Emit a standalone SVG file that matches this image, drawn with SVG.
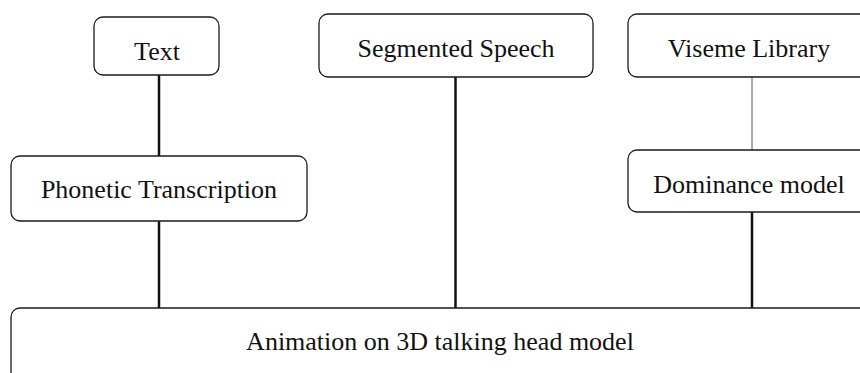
<svg xmlns="http://www.w3.org/2000/svg" width="860" height="373" viewBox="0 0 860 373">
<style>
.box{fill:#fff;stroke:#1a1a1a;stroke-width:1.3}
.lbl{font-family:"Liberation Serif","Times New Roman",serif;font-size:26px;fill:#111;text-anchor:middle}
.thick{stroke:#111;stroke-width:2.5;fill:none}
.thin{stroke:#555;stroke-width:1;fill:none}
</style>
<rect width="860" height="373" fill="#fff"/>
<g id="connectors">
<line class="thick" x1="159" y1="75" x2="159" y2="156"/>
<line class="thick" x1="159" y1="221" x2="159" y2="308"/>
<line class="thick" x1="455.5" y1="77" x2="455.5" y2="308"/>
<line class="thin" x1="752" y1="77" x2="752" y2="150"/>
<line class="thick" x1="752" y1="212" x2="752" y2="308"/>
</g>
<g id="text">
<rect class="box" x="94" y="17" width="125" height="58" rx="9"/>
<text class="lbl" x="157" y="60">Text</text>
</g>
<g id="segmented-speech">
<rect class="box" x="319" y="14" width="274" height="63" rx="9"/>
<text class="lbl" x="456" y="57">Segmented Speech</text>
</g>
<g id="viseme-library">
<rect class="box" x="628" y="14" width="242" height="63" rx="9"/>
<text class="lbl" x="749" y="57">Viseme Library</text>
</g>
<g id="phonetic-transcription">
<rect class="box" x="11" y="156" width="296" height="65" rx="9"/>
<text class="lbl" x="159" y="198">Phonetic Transcription</text>
</g>
<g id="dominance-model">
<rect class="box" x="628" y="150" width="242" height="62" rx="9"/>
<text class="lbl" x="749" y="193">Dominance model</text>
</g>
<g id="animation">
<rect class="box" x="11" y="308" width="858" height="80" rx="9"/>
<text class="lbl" x="440" y="350">Animation on 3D talking head model</text>
</g>
</svg>
